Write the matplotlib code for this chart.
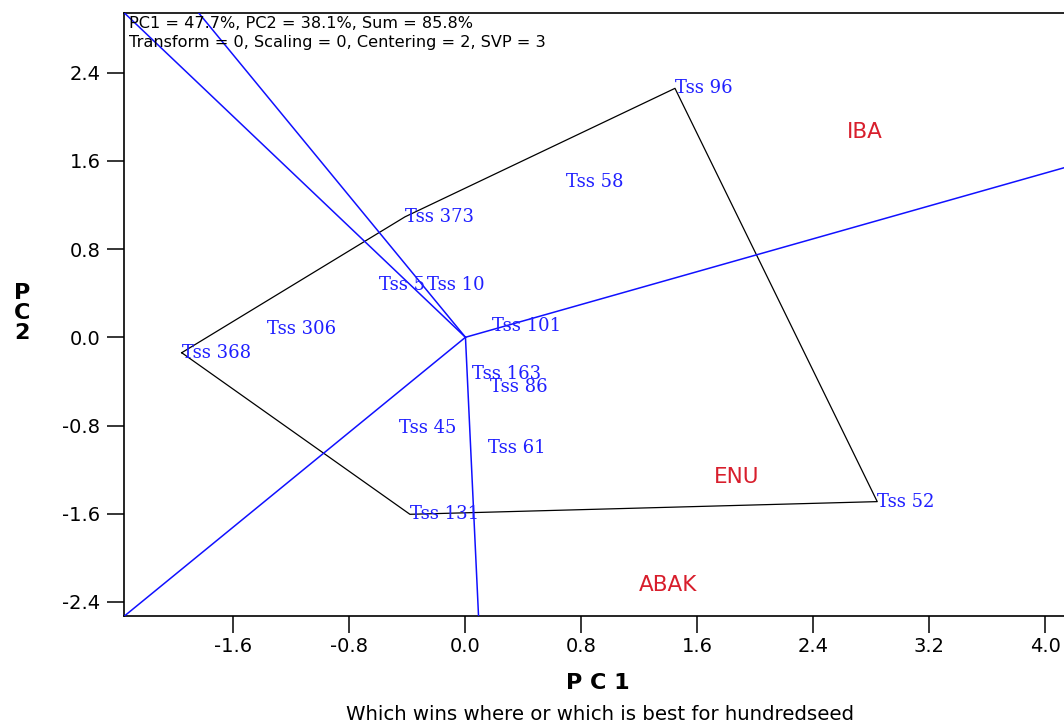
"""
GGE biplot: which wins where / which is best for hundredseed.
Polygon is the convex hull of the genotype scores, rays are drawn from the
origin perpendicular to each polygon side.
"""

import numpy as np
import matplotlib
matplotlib.use("Agg")
import matplotlib.pyplot as plt
from matplotlib.ticker import FixedLocator, FormatStrFormatter

plt.rcParams["axes.unicode_minus"] = False

# ── Data ──────────────────────────────────────────────────────────────────────
genotypes = ["Tss 96", "Tss 58", "Tss 373", "Tss 5", "Tss 10", "Tss 306",
             "Tss 368", "Tss 101", "Tss 163", "Tss 86", "Tss 45", "Tss 61",
             "Tss 131", "Tss 52"]
geno_pc1 = [1.445, 0.693, -0.417, -0.594, -0.268, -1.371,
            -1.957, 0.180, 0.043, 0.169, -0.457, 0.157,
            -0.383, 2.840]
geno_pc2 = [2.257, 1.410, 1.092, 0.474, 0.474, 0.073,
            -0.140, 0.102, -0.333, -0.453, -0.825, -1.006,
            -1.605, -1.490]

environments = ["IBA", "ENU", "ABAK"]
env_pc1 = [2.631, 1.716, 1.199]
env_pc2 = [1.861, -1.264, -2.246]

header_lines = ["PC1 = 47.7%, PC2 = 38.1%, Sum = 85.8%",
                "Transform = 0, Scaling = 0, Centering = 2, SVP = 3"]
x_ticks = [-1.6, -0.8, 0.0, 0.8, 1.6, 2.4, 3.2, 4.0]
y_ticks = [-2.4, -1.6, -0.8, 0.0, 0.8, 1.6, 2.4]
XLIM = (-2.355, 4.128)
YLIM = (-2.527, 2.940)

GENO_COLOR = "#2020ff"
ENV_COLOR = "#d81e2c"
RAY_COLOR = "#1010ff"


def convex_hull(pts):
    """Andrew's monotone chain, returns hull vertices in order."""
    pts = sorted(map(tuple, pts))

    def cross(o, a, b):
        return (a[0] - o[0]) * (b[1] - o[1]) - (a[1] - o[1]) * (b[0] - o[0])

    lower, upper = [], []
    for p in pts:
        while len(lower) >= 2 and cross(lower[-2], lower[-1], p) <= 0:
            lower.pop()
        lower.append(p)
    for p in reversed(pts):
        while len(upper) >= 2 and cross(upper[-2], upper[-1], p) <= 0:
            upper.pop()
        upper.append(p)
    return np.array(lower[:-1] + upper[:-1])


# ── Figure ────────────────────────────────────────────────────────────────────
fig = plt.figure(figsize=(10.64, 7.22), dpi=100)
ax = fig.add_axes([124 / 1064, 1 - 616 / 722, 1 - 124 / 1064, (616 - 13) / 722])

points = np.column_stack([geno_pc1, geno_pc2])
hull = convex_hull(points)
closed = np.vstack([hull, hull[:1]])
ax.plot(closed[:, 0], closed[:, 1], color="black", linewidth=0.9, zorder=2)

# perpendicular rays from the origin to every side of the polygon
for p, q in zip(closed[:-1], closed[1:]):
    d = q - p
    t = -np.dot(p, d) / np.dot(d, d)
    foot = p + t * d
    end = foot / np.linalg.norm(foot) * 20
    ax.plot([0, end[0]], [0, end[1]], color=RAY_COLOR, linewidth=1.1, zorder=3)

for name, x, y in zip(genotypes, geno_pc1, geno_pc2):
    ax.text(x, y, name, color=GENO_COLOR, fontsize=13, family="DejaVu Serif",
            ha="left", va="center", zorder=4)

for name, x, y in zip(environments, env_pc1, env_pc2):
    ax.text(x, y, name, color=ENV_COLOR, fontsize=15.5, family="DejaVu Sans",
            ha="left", va="center", zorder=4)

ax.set_xlim(*XLIM)
ax.set_ylim(*YLIM)
ax.xaxis.set_major_locator(FixedLocator(x_ticks))
ax.yaxis.set_major_locator(FixedLocator(y_ticks))
ax.xaxis.set_major_formatter(FormatStrFormatter("%.1f"))
ax.yaxis.set_major_formatter(FormatStrFormatter("%.1f"))
ax.tick_params(direction="out", length=12, width=1.1, labelsize=14,
               colors="black")
ax.tick_params(axis="x", pad=3)
ax.tick_params(axis="y", pad=5)
ax.spines["right"].set_visible(False)
for s in ["left", "bottom", "top"]:
    ax.spines[s].set_linewidth(1.2)

# ── Labels ────────────────────────────────────────────────────────────────────
fig.text(129 / 1064, 1 - 24 / 722, header_lines[0], fontsize=11.6,
         ha="left", va="center")
fig.text(129 / 1064, 1 - 43 / 722, header_lines[1], fontsize=11.6,
         ha="left", va="center")

fig.text(598 / 1064, 1 - 683 / 722, "P C 1", fontsize=16, fontweight="bold",
         ha="center", va="center")
fig.text(22 / 1064, 1 - 313 / 722, "P\nC\n2", fontsize=16, fontweight="bold",
         ha="center", va="center", linespacing=1.0)
fig.text(600 / 1064, 1 - 714 / 722,
         "Which wins where or which is best for hundredseed",
         fontsize=14.2, ha="center", va="center")

fig.savefig("out.png", dpi=100)
plt.close(fig)
